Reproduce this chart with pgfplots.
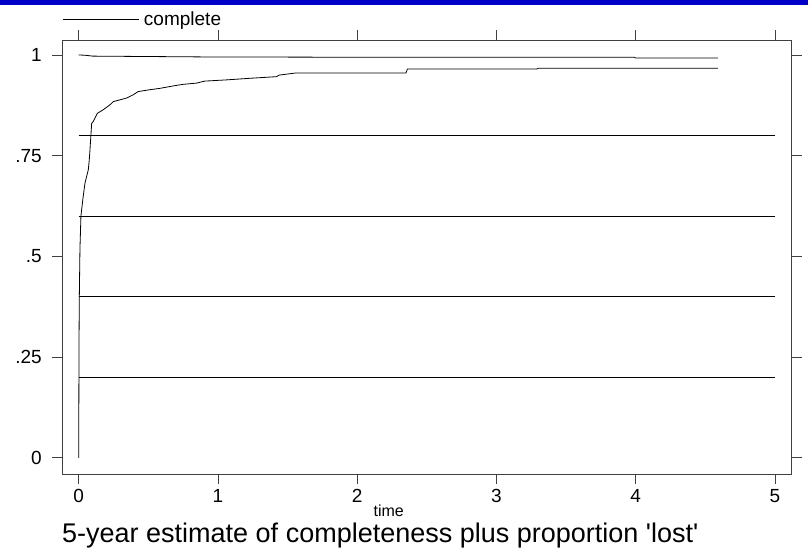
\documentclass[border=0pt]{standalone}
\usepackage{fontspec}
\setmainfont{Liberation Sans}
\usepackage{pgfplots}
\pgfplotsset{compat=1.18}
\definecolor{blueband}{RGB}{0,0,200}
\begin{document}
\begin{tikzpicture}
\path[use as bounding box] (-62pt,-73pt) rectangle (746pt,474pt);
\fill[blueband] (-62pt,469pt) rectangle (746pt,474pt);
\begin{axis}[
  at={(0pt,0pt)}, anchor=south west,
  scale only axis, width=729.7pt, height=434pt,
  xmin=-0.12, xmax=5.12, ymin=-0.040, ymax=1.037,
  xtick={0,1,2,3,4,5}, ytick={0,0.25,0.5,0.75,1},
  yticklabels={0,.25,.5,.75,1},
  xticklabels={0,1,2,3,4,5},
  tick align=outside, major tick length=10pt,
  xtick pos=both, ytick pos=both,
  xticklabel pos=lower, yticklabel pos=left,
  axis line style={black!75, line width=0.8pt},
  every tick/.style={black!75, line width=0.8pt},
  /pgf/number format/assume math mode=true,
  tick label style={font=\fontsize{19}{22}\selectfont},
  yticklabel style={inner sep=0pt, xshift=-10pt},
  xticklabel style={inner sep=0pt, yshift=-5pt},
  every axis x label/.style={at={(axis description cs:0.4477,0)}, anchor=base, yshift=-42.5pt, inner sep=0pt},
  xlabel={\fontsize{16}{19}\selectfont time},
  every axis title/.style={at={(axis description cs:0,0)}, anchor=base west, yshift=-68.7pt, inner sep=0pt},
  title={\fontsize{27}{32}\selectfont 5-year estimate of completeness plus proportion \textquotesingle lost\textquotesingle},
  legend style={draw=none, fill=none, at={(axis description cs:0,1)}, anchor=west, yshift=21pt, inner sep=0pt, font=\fontsize{19}{22}\selectfont, nodes={inner sep=0pt}},
  legend image code/.code={\draw[#1] (0pt,0pt) -- (76pt,0pt);},
  /tikz/every odd column/.append style={column sep=5pt},
  legend cell align=left,
]
\addplot[black, line width=0.8pt] coordinates {
(0,0) (0.002,0.27) (0.004,0.39) (0.009,0.52) (0.016,0.60) (0.029,0.64)
(0.045,0.682) (0.069,0.715) (0.076,0.74) (0.081,0.765) (0.093,0.83)
(0.105,0.835) (0.134,0.855) (0.176,0.864) (0.224,0.876) (0.248,0.884)
(0.344,0.893) (0.391,0.901) (0.427,0.909) (0.499,0.913) (0.583,0.917)
(0.678,0.923) (0.75,0.927) (0.846,0.930) (0.905,0.935) (1.06,0.938)
(1.23,0.942) (1.42,0.946) (1.44,0.950) (1.556,0.955) (2.35,0.955)
(2.36,0.965) (3.29,0.965) (3.30,0.967) (4.59,0.967)
};
\addlegendentry{complete}
\addplot[black, line width=0.8pt, forget plot] coordinates {
(0,1.0) (0.05,0.999) (0.1,0.997) (0.5,0.996) (0.9,0.995) (2.3,0.994)
(3.99,0.994) (4.0,0.9925) (4.59,0.9925)
};
\addplot[black, line width=0.8pt, forget plot] coordinates {(0,0.8) (5,0.8)};
\addplot[black, line width=0.8pt, forget plot] coordinates {(0,0.6) (5,0.6)};
\addplot[black, line width=0.8pt, forget plot] coordinates {(0,0.4) (5,0.4)};
\addplot[black, line width=0.8pt, forget plot] coordinates {(0,0.2) (5,0.2)};
\end{axis}
\end{tikzpicture}
\end{document}
